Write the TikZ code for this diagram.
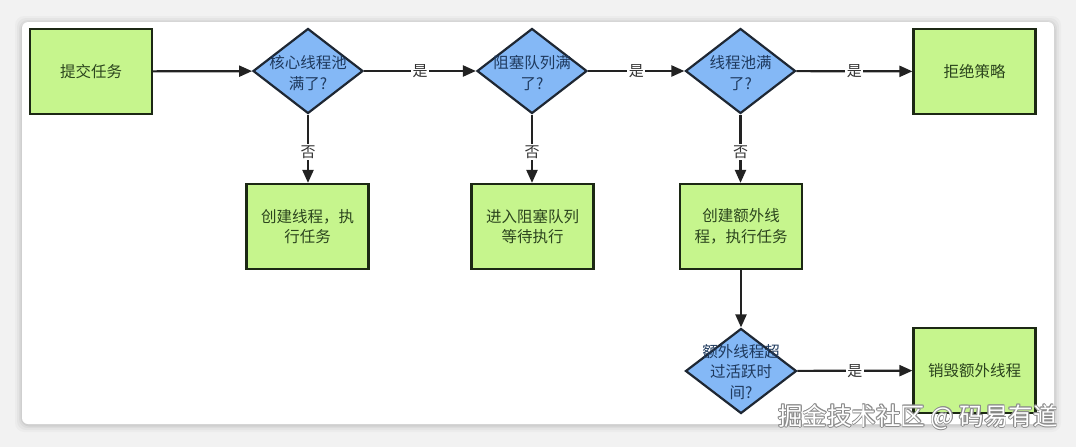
\documentclass[tikz,border=0pt]{standalone}
\usepackage{fontspec}
\setmainfont{Noto Sans CJK SC}
\usetikzlibrary{shapes.geometric,arrows.meta}
\definecolor{bgc}{HTML}{F2F2F2}
\definecolor{gfill}{HTML}{C6F58D}
\definecolor{gline}{HTML}{1C2814}
\definecolor{gtext}{HTML}{2C451E}
\definecolor{bfill}{HTML}{84B8F6}
\definecolor{bline}{HTML}{1E2733}
\definecolor{btext}{HTML}{1F3A5E}
\definecolor{cline}{HTML}{222222}
\definecolor{labc}{HTML}{333333}
\definecolor{wmgray}{HTML}{8C8C8C}
\tikzset{
  box/.style={draw=gline, fill=gfill, line width=2.2pt, minimum width=122pt, minimum height=85pt,
    inner sep=0pt, align=center, text=gtext, font=\fontsize{15.5}{20.5}\selectfont},
  dia/.style={diamond, draw=bline, fill=bfill, line width=2.2pt, minimum width=110pt,
    minimum height=85pt, inner sep=0pt},
  dtext/.style={align=center, text=btext, font=\fontsize{15.5}{20.5}\selectfont, inner sep=0pt},
  conn/.style={line width=2.2pt, draw=cline, -{Triangle[length=13pt,width=11pt]}},
  lab/.style={fill=white, inner sep=1.5pt, text=labc, font=\fontsize{15}{17}\selectfont},
  wmk/.style={font=\fontsize{24.5}{26}\selectfont, inner sep=0pt}
}
\begin{document}
\begin{tikzpicture}[x=1pt,y=-1pt]
\useasboundingbox (0,0) rectangle (1076,447);
\fill[bgc] (0,0) rectangle (1076,447);
% card shadow
\foreach \i/\o in {7/0.025,5/0.03,3/0.04,1.5/0.05}
  \fill[black,opacity=\o,rounded corners=9pt] (22-\i,22-\i+1) rectangle (1054+\i,424+\i+1);
\fill[white,rounded corners=6pt] (22,22) rectangle (1054,424);

% nodes
\node[box] (s) at (91,71.5) {提交任务};
\node[dia] (d1) at (308,71) {};
\node[dtext] (t1) at (308,73) {核心线程池\\满了?};
\node[dia] (d2) at (532,71) {};
\node[dtext] (t2) at (532,73) {阻塞队列满\\了?};
\node[dia] (d3) at (740.5,71) {};
\node[dtext] (t3) at (740.5,73) {线程池满\\了?};
\node[box] (r) at (974.5,71.5) {拒绝策略};
\node[box] (b1) at (307.5,226.5) {创建线程，执\\行任务};
\node[box] (b2) at (532.5,226.5) {进入阻塞队列\\等待执行};
\node[box] (b3) at (741,226.5) {创建额外线\\程，执行任务};
\node[dia, minimum width=111pt] (d4) at (741,371) {};
\node[dtext] (t4) at (741,372) {额外线程超\\过活跃时\\间?};
\node[box] (b4) at (974.5,370.5) {销毁额外线程};

% connectors
\draw[conn] (s) -- (d1);
\draw[conn] (d1) -- node[lab] {是} (d2);
\draw[conn] (d2) -- node[lab] {是} (d3);
\draw[conn] (d3) -- node[lab] {是} (r);
\draw[conn] (d1.south) -- node[lab, pos=0.55] {否} (d1.south |- b1.north);
\draw[conn] (d2.south) -- node[lab, pos=0.55] {否} (d2.south |- b2.north);
\draw[conn] (d3.south) -- node[lab, pos=0.55] {否} (d3.south |- b3.north);
\draw[conn] (b3.south) -- (b3.south |- d4.north);
\draw[conn] (d4) -- node[lab] {是} (b4);

% watermark
\coordinate (wmc) at (918,417);
\foreach \dx/\dy in {0.9/0,-0.9/0,0/0.9,0/-0.9,0.65/0.65,-0.65/0.65,0.65/-0.65,-0.65/-0.65}
  \node[wmk, text=wmgray] at ([shift={(\dx,\dy)}]wmc) {掘金技术社区 @ 码易有道};
\node[wmk, text=white] (wm) at (wmc) {掘金技术社区 @ 码易有道};
\end{tikzpicture}
\end{document}
